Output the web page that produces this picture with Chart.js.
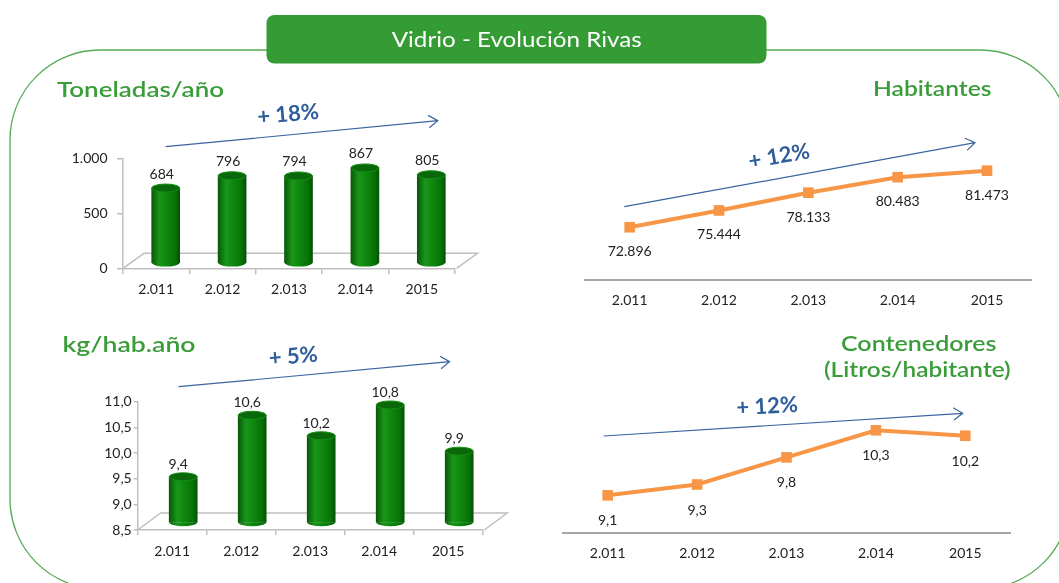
<!DOCTYPE html>
<html><head><meta charset="utf-8">
<script src="https://cdn.jsdelivr.net/npm/chart.js@4.4.1/dist/chart.umd.min.js"></script>
<style>
html,body{margin:0;padding:0;background:#fff;overflow:hidden;width:1059px;height:583px;}
canvas{position:absolute;}
#ov{position:absolute;left:0;top:0;pointer-events:none;}
</style></head><body>
<canvas id="c1" width="480" height="175" style="left:20px;top:140px"></canvas>
<canvas id="c2" width="500" height="190" style="left:20px;top:385px"></canvas>
<canvas id="c3" width="499" height="225" style="left:560px;top:95px"></canvas>
<canvas id="c4" width="500" height="210" style="left:540px;top:365px"></canvas>
<svg id="ov" width="1059" height="583" xmlns="http://www.w3.org/2000/svg">
  <rect x="10" y="50" width="1060" height="539" rx="90" ry="90" fill="none" stroke="#55aa55" stroke-width="1.3"/>
  <rect x="266.5" y="15" width="500" height="48.5" rx="8" ry="8" fill="#359b35"/>
  <text x="391.7" y="46.7" fill="#ffffff" font-family="Lato" font-size="21" textLength="250" lengthAdjust="spacingAndGlyphs">Vidrio - Evolución Rivas</text>
  <g fill="#3a9d3a" font-family="Lato" font-weight="600" font-size="21">
    <text x="57" y="96.7" textLength="167" lengthAdjust="spacingAndGlyphs">Toneladas/año</text>
    <text x="873" y="96" textLength="118.5" lengthAdjust="spacingAndGlyphs">Habitantes</text>
    <text x="62.5" y="351.7" textLength="133" lengthAdjust="spacingAndGlyphs">kg/hab.año</text>
    <text x="841" y="350.7" textLength="155.5" lengthAdjust="spacingAndGlyphs">Contenedores</text>
    <text x="824" y="377" textLength="186.7" lengthAdjust="spacingAndGlyphs">(Litros/habitante)</text>
  </g>
  <g id="arrows"></g>
</svg>
<script>
// ---------- DATA ----------
const categories = ['2.011', '2.012', '2.013', '2.014', '2015'];
const toneladas = [684, 796, 794, 867, 805];
const kgHabAno = [9.4, 10.6, 10.2, 10.8, 9.9];
const habitantes = [72896, 75444, 78133, 80483, 81473];
const contenedores = [9.1, 9.3, 9.8, 10.3, 10.2];
const tonTicks = [0, 500, 1000];
const tonTickLabels = ['0', '500', '1.000'];
const kgTicks = [8.5, 9, 9.5, 10, 10.5, 11];
const kgTickLabels = ['8,5', '9,0', '9,5', '10,0', '10,5', '11,0'];
const trendTexts = ['+ 18%', '+ 5%', '+ 12%', '+ 12%'];

// ---------- helpers ----------
function fmtThousands(v){ return String(v).replace(/\B(?=(\d{3})+(?!\d))/g, '.'); }
function fmtDec(v){ return v.toFixed(1).replace('.', ','); }
const FONT = 'Lato';
const TXT = '#222222';

function bodyGrad(ctx, x, w){
  const g = ctx.createLinearGradient(x - w/2, 0, x + w/2, 0);
  g.addColorStop(0, '#075a07');
  g.addColorStop(0.28, '#1a961a');
  g.addColorStop(0.55, '#0e860e');
  g.addColorStop(0.85, '#077207');
  g.addColorStop(1, '#045204');
  return g;
}

function cylinderPlugin(o){
  return {
    id: 'cyl',
    beforeDatasetsDraw(chart){
      const ctx = chart.ctx, a = chart.chartArea;
      ctx.save();
      ctx.strokeStyle = '#bfbfbf'; ctx.lineWidth = 1.5;
      ctx.beginPath();
      ctx.moveTo(a.left, a.bottom);
      ctx.lineTo(a.left + o.depth[0], a.bottom + o.depth[1]);
      ctx.lineTo(a.right + o.depth[0] + 1.5, a.bottom + o.depth[1]);
      ctx.lineTo(a.right + 1.5, a.bottom);
      ctx.stroke();
      ctx.restore();
    },
    beforeDatasetDraw(chart){ chart.ctx.save(); chart.ctx.translate(o.shift[0], o.shift[1]); },
    afterDatasetDraw(chart, args){
      const ctx = chart.ctx;
      const vals = chart.data.datasets[args.index].data;
      args.meta.data.forEach((el, i) => {
        const p = el.getProps(['x','y','base','width'], true);
        const rx = p.width/2, ry = 4;
        ctx.fillStyle = bodyGrad(ctx, p.x, p.width);
        ctx.beginPath(); ctx.ellipse(p.x, p.base, rx, ry, 0, 0, Math.PI); ctx.fill();
        ctx.beginPath(); ctx.ellipse(p.x, p.y, rx, ry, 0, 0, 2*Math.PI);
        ctx.fillStyle = '#0a680a'; ctx.fill();
        ctx.strokeStyle = '#139013'; ctx.lineWidth = 1; ctx.stroke();
        ctx.fillStyle = TXT; ctx.font = '14px ' + FONT;
        ctx.textAlign = 'center'; ctx.textBaseline = 'middle';
        ctx.fillText(o.fmt(vals[i]), p.x + o.lbl[0], p.y + o.lbl[1]);
      });
      ctx.restore();
    }
  };
}

function barChart(id, values, ticks, tickLabels, o){
  return new Chart(document.getElementById(id), {
    type: 'bar',
    data: { labels: categories, datasets: [{
      data: values, base: o.yMin, borderWidth: 0, barThickness: 28, clip: false,
      backgroundColor: (c) => {
        const ch = c.chart, xs = ch.scales && ch.scales.x;
        if (!ch.chartArea || !xs) return '#0e860e';
        return bodyGrad(ch.ctx, xs.getPixelForValue(c.dataIndex), 28);
      }
    }]},
    options: {
      responsive: false, animation: false, devicePixelRatio: 1,
      layout: { padding: { left: 0, right: o.padR, top: o.padT, bottom: 0 } },
      plugins: { legend: { display: false }, tooltip: { enabled: false } },
      scales: {
        x: {
          offset: true,
          grid: { display: true, drawOnChartArea: false, drawTicks: true, tickLength: o.xTl, color: '#bfbfbf', lineWidth: 1.5, offset: true },
          border: { display: true, color: '#bfbfbf', width: 1.5 },
          ticks: { color: TXT, font: { family: FONT, size: 14 }, padding: o.xPad, autoSkip: false, maxRotation: 0 },
          afterFit: (s) => { s.height = o.xH; }
        },
        y: {
          min: o.yMin, max: o.yMax,
          grid: { drawOnChartArea: false, drawTicks: true, tickLength: o.yTl, color: '#bfbfbf', lineWidth: 1.5 },
          border: { display: true, color: '#bfbfbf', width: 1.5 },
          afterBuildTicks: (s) => { s.ticks = ticks.map(v => ({ value: v })); },
          ticks: { color: TXT, font: { family: FONT, size: 14 }, padding: o.yPad,
                   callback: (v) => tickLabels[ticks.indexOf(v)] },
          afterFit: (s) => { s.width = o.yW; }
        }
      }
    },
    plugins: [cylinderPlugin(o)]
  });
}

function lineLabelPlugin(o){
  return {
    id: 'lbl',
    afterDatasetsDraw(chart){
      const ctx = chart.ctx;
      const vals = chart.data.datasets[0].data;
      chart.getDatasetMeta(0).data.forEach((el, i) => {
        const p = el.getProps(['x','y'], true);
        ctx.save();
        ctx.fillStyle = TXT; ctx.font = '14px ' + FONT;
        ctx.textAlign = 'center'; ctx.textBaseline = 'middle';
        ctx.fillText(o.fmt(vals[i]), p.x, p.y + o.lblDy);
        ctx.restore();
      });
    }
  };
}

function lineChart(id, values, o){
  return new Chart(document.getElementById(id), {
    type: 'line',
    data: { labels: categories, datasets: [{
      data: values, borderColor: '#f79646', borderWidth: 4, tension: 0, clip: false,
      pointStyle: 'rect', pointRadius: 7.5, pointBackgroundColor: '#f79646', pointBorderWidth: 0
    }]},
    options: {
      responsive: false, animation: false, devicePixelRatio: 1,
      layout: { padding: { left: o.padL, right: o.padR, top: o.padT, bottom: 0 } },
      plugins: { legend: { display: false }, tooltip: { enabled: false } },
      scales: {
        x: {
          offset: true,
          grid: { display: false, drawTicks: false },
          border: { display: true, color: '#a6a6a6', width: 2 },
          ticks: { color: TXT, font: { family: FONT, size: 14 }, padding: o.xPad, autoSkip: false, maxRotation: 0 },
          afterFit: (s) => { s.height = o.xH; }
        },
        y: { display: false, min: o.yMin, max: o.yMax }
      }
    },
    plugins: [lineLabelPlugin(o)]
  });
}

// ---------- charts ----------
barChart('c1', toneladas, tonTicks, tonTickLabels, {
  yMin: 0, yMax: 1000, yW: 103, padR: 45, padT: 18.3, xH: 46.7,
  yTl: 6, yPad: 9.5, xTl: 6, xPad: 7,
  shift: [9.5, -5], depth: [21, -15], lbl: [-4, -14], fmt: fmtThousands
});
barChart('c2', kgHabAno, kgTicks, kgTickLabels, {
  yMin: 8.5, yMax: 11, yW: 117.7, padR: 37.3, padT: 16.7, xH: 45,
  yTl: 4, yPad: 2, xTl: 5, xPad: 8,
  shift: [11, -7], depth: [23, -17], lbl: [-5, -12.5], fmt: fmtDec
});
lineChart('c3', habitantes, {
  yMin: 64900, yMax: 90000, padL: 25, padR: 27.3, padT: 19.4, xH: 40, xPad: 12,
  lblDy: 24.5, fmt: fmtThousands
});
lineChart('c4', contenedores, {
  yMin: 8.4, yMax: 11.2, padL: 23, padR: 30, padT: 16.5, xH: 41.7, xPad: 12,
  lblDy: 25.5, fmt: fmtDec
});

// ---------- trend arrows (annotations) ----------
const arrowGeom = [
  { x1: 165.6, y1: 146.7, x2: 437.8, y2: 120.7, tx: 288, ty: 113, rot: -5 },
  { x1: 178.5, y1: 386.7, x2: 449.6, y2: 361.7, tx: 293, ty: 355, rot: -5 },
  { x1: 624.3, y1: 206.7, x2: 975, y2: 142.7, tx: 779, ty: 155, rot: -10 },
  { x1: 603.7, y1: 436, x2: 962.7, y2: 413.3, tx: 767, ty: 405, rot: -3 }
];
const NS = 'http://www.w3.org/2000/svg';
const g = document.getElementById('arrows');
arrowGeom.forEach((a, i) => {
  const ang = Math.atan2(a.y2 - a.y1, a.x2 - a.x1), L = 11, h = 0.6;
  const path = document.createElementNS(NS, 'path');
  path.setAttribute('d',
    `M${a.x1},${a.y1} L${a.x2},${a.y2} ` +
    `M${a.x2 - L*Math.cos(ang - h)},${a.y2 - L*Math.sin(ang - h)} L${a.x2},${a.y2} L${a.x2 - L*Math.cos(ang + h)},${a.y2 - L*Math.sin(ang + h)}`);
  path.setAttribute('stroke', '#3a64a0'); path.setAttribute('stroke-width', '1.2');
  path.setAttribute('fill', 'none');
  g.appendChild(path);
  const t = document.createElementNS(NS, 'text');
  t.setAttribute('x', a.tx); t.setAttribute('y', a.ty);
  t.setAttribute('text-anchor', 'middle'); t.setAttribute('dominant-baseline', 'central');
  t.setAttribute('font-family', 'Lato'); t.setAttribute('font-weight', 'bold');
  t.setAttribute('font-size', '22'); t.setAttribute('fill', '#2f5e9c');
  t.setAttribute('transform', `rotate(${a.rot} ${a.tx} ${a.ty})`);
  t.textContent = trendTexts[i];
  g.appendChild(t);
});
</script>
</body></html>
